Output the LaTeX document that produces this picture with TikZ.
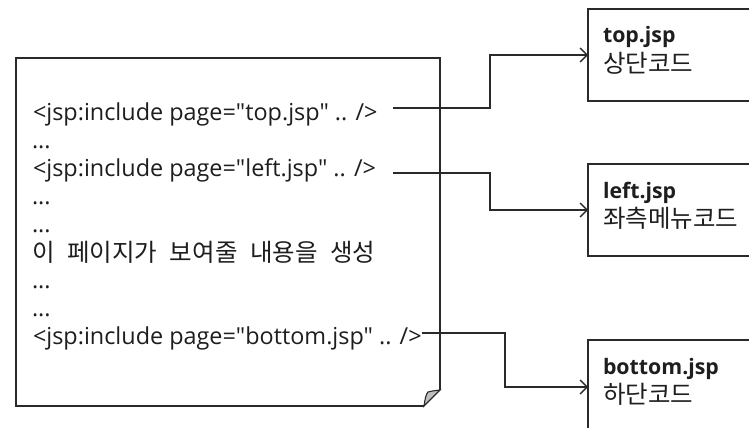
\documentclass[tikz,border=0pt]{standalone}
\usepackage{fontspec}
\setmainfont{Open Sans}[Ligatures=TeXOff]
\newfontfamily\kr{Noto Sans CJK KR}[Ligatures=TeXOff]
\newfontfamily\krwide{Noto Sans CJK KR}[Ligatures=TeXOff,WordSpace=2.3]
\usetikzlibrary{arrows.meta}
\definecolor{ink}{HTML}{1E1E1E}
\definecolor{edge}{HTML}{2A2A2A}
\begin{document}
\begin{tikzpicture}[x=1pt,y=-1pt,
  every node/.style={inner sep=0pt,outer sep=0pt,text=ink,font=\fontsize{23.4}{28}\selectfont},
  codeline/.style={anchor=base west},
  krline/.style={anchor=base west,font=\fontsize{24.5}{28}\selectfont\krwide},
  pagebox/.style={draw=edge,line width=1.4pt,fill=white},
  link/.style={draw=edge,line width=1.3pt,-{Straight Barb[length=7pt,width=14pt,line width=1.3pt]}},
  boxtitle/.style={anchor=base west,font=\fontsize{21.3}{26}\selectfont\bfseries},
  boxsub/.style={anchor=base west,font=\fontsize{24.5}{28}\selectfont\kr}]
\useasboundingbox (0,0) rectangle (749,428);
\clip (0,0) rectangle (749,428);
\fill[white] (0,0) rectangle (749,428);

% main page with folded corner
\draw[edge,line width=1.4pt] (424,406) -- (16,406) -- (16,58) -- (440,58) -- (440,390);
\draw[edge,line width=1.1pt,fill=gray!50] (424,406) .. controls (425,399) and (426,394) .. (428,392) .. controls (432,391) .. (440,390) -- cycle;

\node[codeline] (l1) at (33,120) {<jsp:include page="top.jsp" .. />};
\node[codeline] (l2) at (32,148) {...};
\node[codeline] (l3) at (33,176) {<jsp:include page="left.jsp" .. />};
\node[codeline] (l4) at (32,204) {...};
\node[codeline] (l5) at (32,232) {...};
\node[krline] (l6) at (32,261) {이 페이지가 보여줄 내용을 생성};
\node[codeline] (l7) at (32,288) {...};
\node[codeline] (l8) at (32,316) {...};
\node[codeline] (l9) at (33,344) {<jsp:include page="bottom.jsp" .. />};

% right boxes
\node[pagebox,minimum width=175pt,minimum height=92pt,anchor=north west] (top) at (588,9) {};
\node[pagebox,minimum width=175pt,minimum height=92pt,anchor=north west] (left) at (588,164) {};
\node[pagebox,minimum width=175pt,minimum height=94pt,anchor=north west] (bottom) at (588,340) {};

\node[boxtitle] (t1) at (603,43) {top.jsp};
\node[boxsub] (t2) at (603,72) {상단코드};
\node[boxtitle] (t3) at (603,198) {left.jsp};
\node[boxsub] (t4) at (603,227) {좌측메뉴코드};
\node[boxtitle] (t5) at (603,374) {bottom.jsp};
\node[boxsub] (t6) at (603,403) {하단코드};

% connectors
\coordinate (s1) at (393,108);
\coordinate (s2) at (393,173);
\coordinate (s3) at (422,333);
\draw[link] (s1) -- ++(97,0) |- (top.west);
\draw[link] (s2) -- ++(97,0) |- (left.west);
\draw[link] (s3) -- ++(83,0) |- (bottom.west);
\end{tikzpicture}
\end{document}
